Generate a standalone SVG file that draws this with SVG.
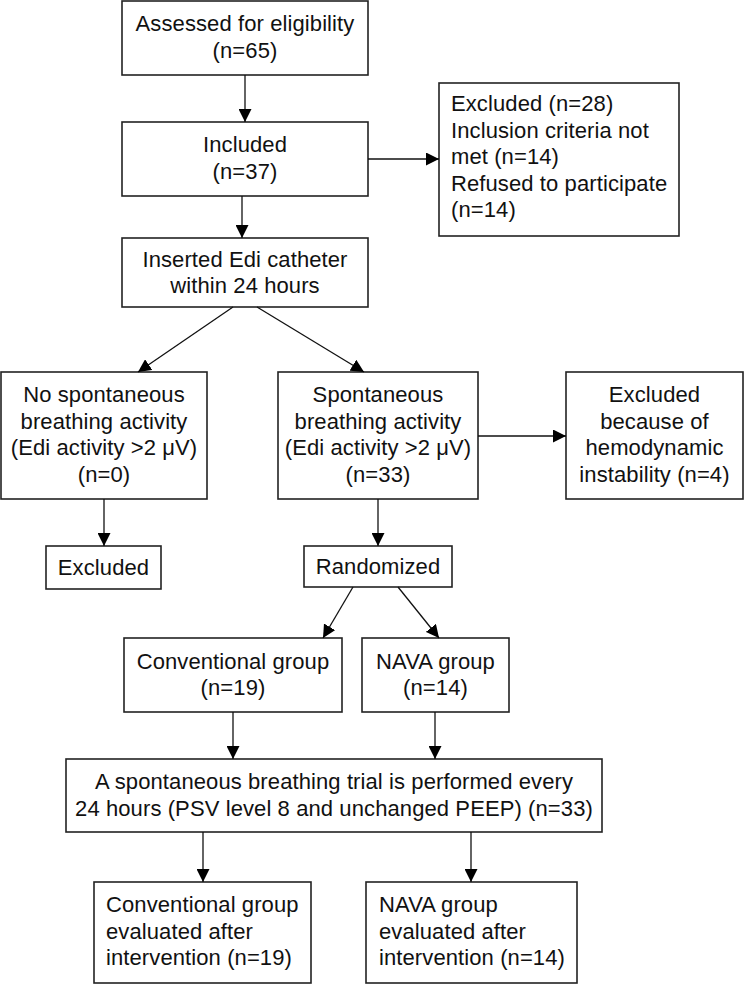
<svg xmlns="http://www.w3.org/2000/svg" width="744" height="984" viewBox="0 0 744 984">
<defs>
<style>
.box{fill:#fff;stroke:#222;stroke-width:1.6}
.t{font-family:"Liberation Sans",Arial,sans-serif;font-size:22px;fill:#111;letter-spacing:0.1px}
.c{text-anchor:middle}
.conn path{fill:none;stroke:#111;stroke-width:1.3;marker-end:url(#arr)}
</style>
<marker id="arr" markerUnits="userSpaceOnUse" markerWidth="13" markerHeight="13" refX="13" refY="6.5" orient="auto">
<path d="M0,0 L13,6.5 L0,13 z" fill="#000"/>
</marker>
</defs>
<rect width="744" height="984" fill="#fff"/>
<g id="assessed">
<rect class="box" x="122" y="1" width="246" height="74"/>
<text class="t c" x="245" y="31">Assessed for eligibility</text>
<text class="t c" x="245" y="57.5">(n=65)</text>
</g>
<g id="included">
<rect class="box" x="122" y="122" width="246" height="74"/>
<text class="t c" x="245" y="152">Included</text>
<text class="t c" x="245" y="178.5">(n=37)</text>
</g>
<g id="excluded28">
<rect class="box" x="439" y="83" width="240" height="153"/>
<text class="t" x="451" y="111">Excluded (n=28)</text>
<text class="t" x="451" y="137.6">Inclusion criteria not</text>
<text class="t" x="451" y="164.2">met (n=14)</text>
<text class="t" x="451" y="190.8">Refused to participate</text>
<text class="t" x="451" y="217.4">(n=14)</text>
</g>
<g id="inserted">
<rect class="box" x="122" y="238" width="246" height="69"/>
<text class="t c" x="245" y="266.5">Inserted Edi catheter</text>
<text class="t c" x="245" y="293">within 24 hours</text>
</g>
<g id="nospont">
<rect class="box" x="1" y="372" width="206" height="127"/>
<text class="t c" x="104" y="402">No spontaneous</text>
<text class="t c" x="104" y="428.6">breathing activity</text>
<text class="t c" x="104" y="455.2">(Edi activity &gt;2 μV)</text>
<text class="t c" x="104" y="481.8">(n=0)</text>
</g>
<g id="spont">
<rect class="box" x="278" y="372" width="200" height="127"/>
<text class="t c" x="378" y="402">Spontaneous</text>
<text class="t c" x="378" y="428.6">breathing activity</text>
<text class="t c" x="378" y="455.2">(Edi activity &gt;2 μV)</text>
<text class="t c" x="378" y="481.8">(n=33)</text>
</g>
<g id="excludedhemo">
<rect class="box" x="566" y="372" width="177" height="127"/>
<text class="t c" x="654.5" y="402">Excluded</text>
<text class="t c" x="654.5" y="428.6">because of</text>
<text class="t c" x="654.5" y="455.2">hemodynamic</text>
<text class="t c" x="654.5" y="481.8">instability (n=4)</text>
</g>
<g id="excludedsmall">
<rect class="box" x="46" y="546" width="115" height="43"/>
<text class="t c" x="103.5" y="575">Excluded</text>
</g>
<g id="randomized">
<rect class="box" x="304" y="546" width="148" height="41"/>
<text class="t c" x="378" y="574">Randomized</text>
</g>
<g id="convgroup">
<rect class="box" x="124" y="638" width="218" height="74"/>
<text class="t c" x="233" y="668.5">Conventional group</text>
<text class="t c" x="233" y="695">(n=19)</text>
</g>
<g id="navagroup">
<rect class="box" x="362" y="638" width="147" height="74"/>
<text class="t c" x="435.5" y="668.5">NAVA group</text>
<text class="t c" x="435.5" y="695">(n=14)</text>
</g>
<g id="trial">
<rect class="box" x="66" y="759" width="536" height="73"/>
<text class="t c" x="334" y="789">A spontaneous breathing trial is performed every</text>
<text class="t c" x="334" y="815.5">24 hours (PSV level 8 and unchanged PEEP) (n=33)</text>
</g>
<g id="conveval">
<rect class="box" x="94" y="882" width="217" height="101"/>
<text class="t" x="106" y="912">Conventional group</text>
<text class="t" x="106" y="938.5">evaluated after</text>
<text class="t" x="106" y="965">intervention (n=19)</text>
</g>
<g id="navaeval">
<rect class="box" x="366" y="882" width="211" height="101"/>
<text class="t" x="379" y="912">NAVA group</text>
<text class="t" x="379" y="938.5">evaluated after</text>
<text class="t" x="379" y="965">intervention (n=14)</text>
</g>
<g id="connectors" class="conn">
<path d="M245,75 V122"/>
<path d="M242,196 V238"/>
<path d="M368,159 H439"/>
<path d="M233,307 L138,372"/>
<path d="M257,307 L364,372"/>
<path d="M478,436 H566"/>
<path d="M104,499 V546"/>
<path d="M378,499 V546"/>
<path d="M353,587 L323,638"/>
<path d="M398,587 L439,638"/>
<path d="M233,712 V759"/>
<path d="M435,712 V759"/>
<path d="M203,832 V882"/>
<path d="M471,832 V882"/>
</g>
</svg>
